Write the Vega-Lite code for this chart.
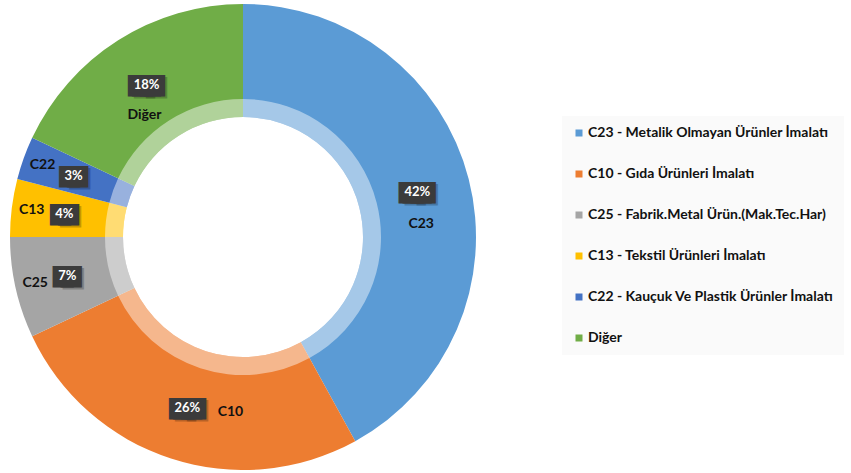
{
  "$schema": "https://vega.github.io/schema/vega-lite/v6.json",
  "width": 486,
  "height": 474,
  "padding": 0,
  "background": "white",
  "config": {"view": {"stroke": null}},
  "data": {"values": [
    {"kod": "C23", "ad": "C23 - Metalik Olmayan Ürünler İmalatı", "value": 0.42, "ord": 1},
    {"kod": "C10", "ad": "C10 - Gıda Ürünleri İmalatı", "value": 0.26, "ord": 2},
    {"kod": "C25", "ad": "C25 - Fabrik.Metal Ürün.(Mak.Tec.Har)", "value": 0.07, "ord": 3},
    {"kod": "C13", "ad": "C13 - Tekstil Ürünleri İmalatı", "value": 0.04, "ord": 4},
    {"kod": "C22", "ad": "C22 - Kauçuk Ve Plastik Ürünler İmalatı", "value": 0.03, "ord": 5},
    {"kod": "Diğer", "ad": "Diğer", "value": 0.18, "ord": 6}
  ]},
  "encoding": {
    "theta": {"field": "value", "type": "quantitative", "stack": true},
    "order": {"field": "ord", "type": "quantitative"}
  },
  "layer": [
    {
      "mark": {"type": "arc", "outerRadius": 233, "innerRadius": 120},
      "encoding": {
        "color": {
          "field": "ad", "type": "nominal",
          "scale": {
            "domain": ["C23 - Metalik Olmayan Ürünler İmalatı", "C10 - Gıda Ürünleri İmalatı", "C25 - Fabrik.Metal Ürün.(Mak.Tec.Har)", "C13 - Tekstil Ürünleri İmalatı", "C22 - Kauçuk Ve Plastik Ürünler İmalatı", "Diğer"],
            "range": ["#5B9BD5", "#ED7D31", "#A5A5A5", "#FFC000", "#4472C4", "#70AD47"]
          },
          "legend": {
            "title": null,
            "orient": "none",
            "legendX": 562,
            "legendY": 116,
            "direction": "vertical",
            "fillColor": "#fafafa",
            "padding": 10,
            "symbolType": "square",
            "symbolSize": 49,
            "symbolStrokeWidth": 0,
            "labelFont": "Lato",
            "labelFontWeight": "bold",
            "labelFontSize": 14,
            "labelColor": "#111111",
            "labelOffset": 2,
            "labelLimit": 400,
            "rowPadding": 27
          }
        }
      }
    },
    {
      "mark": {"type": "arc", "outerRadius": 138, "innerRadius": 120, "fill": "white", "fillOpacity": 0.45}
    },
    {
      "mark": {"type": "text", "radius": 180, "font": "DejaVu Sans", "fontSize": 28, "fill": "#000000", "opacity": 0.22, "dx": -2, "dy": 2, "baseline": "middle"},
      "encoding": {"text": {"condition": {"test": "datum.value >= 0.1", "value": "■"}, "value": ""}}
    },
    {
      "mark": {"type": "text", "radius": 180, "font": "DejaVu Sans", "fontSize": 28, "fill": "#000000", "opacity": 0.22, "dx": 10, "dy": 2, "baseline": "middle"},
      "encoding": {"text": {"condition": {"test": "datum.value >= 0.1", "value": "■"}, "value": ""}}
    },
    {
      "mark": {"type": "text", "radius": 180, "font": "DejaVu Sans", "fontSize": 28, "fill": "#000000", "opacity": 0.22, "dx": 6, "dy": 2, "baseline": "middle"},
      "encoding": {"text": {"condition": {"test": "datum.value < 0.1", "value": "■"}, "value": ""}}
    },
    {
      "mark": {"type": "text", "radius": 180, "font": "DejaVu Sans", "fontSize": 28, "fill": "#3b3b3b", "dx": -8, "baseline": "middle"},
      "encoding": {"text": {"condition": {"test": "datum.value >= 0.1", "value": "■"}, "value": ""}}
    },
    {
      "mark": {"type": "text", "radius": 180, "font": "DejaVu Sans", "fontSize": 28, "fill": "#3b3b3b", "dx": 8, "baseline": "middle"},
      "encoding": {"text": {"condition": {"test": "datum.value >= 0.1", "value": "■"}, "value": ""}}
    },
    {
      "mark": {"type": "text", "radius": 180, "font": "DejaVu Sans", "fontSize": 28, "fill": "#3b3b3b", "dx": -4, "baseline": "middle"},
      "encoding": {"text": {"value": "■"}}
    },
    {
      "mark": {"type": "text", "radius": 180, "font": "DejaVu Sans", "fontSize": 28, "fill": "#3b3b3b", "dx": 4, "baseline": "middle"},
      "encoding": {"text": {"value": "■"}}
    },
    {
      "mark": {"type": "text", "radius": 180, "font": "Lato", "fontWeight": "bold", "fontSize": 13, "fill": "white", "baseline": "middle"},
      "encoding": {"text": {"field": "value", "type": "quantitative", "format": ".0%"}}
    },
    {
      "mark": {"type": "text", "radius": 184, "dy": 33, "font": "Lato", "fontWeight": "bold", "fontSize": 14, "fill": "#111111", "baseline": "middle"},
      "encoding": {"text": {"condition": {"test": "datum.kod == 'C23' || datum.kod == 'Diğer'", "field": "kod"}, "value": ""}}
    },
    {
      "mark": {"type": "text", "radius": 180, "dx": 43, "dy": 4, "font": "Lato", "fontWeight": "bold", "fontSize": 14, "fill": "#111111", "baseline": "middle"},
      "encoding": {"text": {"condition": {"test": "datum.kod == 'C10'", "field": "kod"}, "value": ""}}
    },
    {
      "mark": {"type": "text", "radius": 213, "font": "Lato", "fontWeight": "bold", "fontSize": 14, "fill": "#111111", "baseline": "middle"},
      "encoding": {"text": {"condition": {"test": "datum.kod == 'C25' || datum.kod == 'C13' || datum.kod == 'C22'", "field": "kod"}, "value": ""}}
    }
  ]
}
